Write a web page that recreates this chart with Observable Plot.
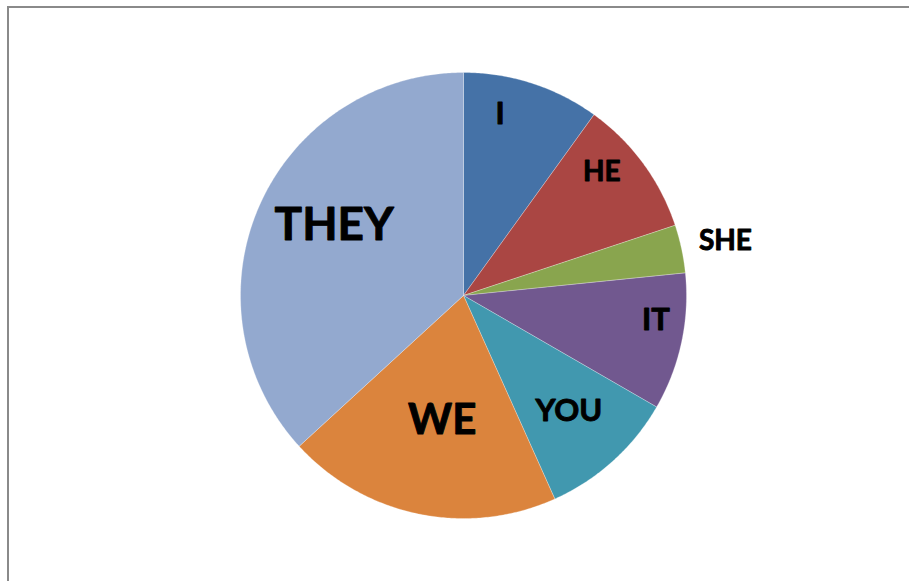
<!DOCTYPE html>
<html>
<head>
<meta charset="utf-8">
<script src="https://cdn.jsdelivr.net/npm/d3@7"></script>
<script src="https://cdn.jsdelivr.net/npm/@observablehq/plot@0.6"></script>
<style>
  html, body { margin: 0; padding: 0; background: #fff; overflow: hidden; }
  #wrap { position: relative; width: 909px; height: 581px; }
  #frame { position: absolute; left: 7px; top: 6px; width: 1000px; height: 1000px;
           border: 2px solid #8a8a8a; box-sizing: border-box; pointer-events: none; }
</style>
</head>
<body>
<div id="wrap"><div id="frame"></div></div>
<script>
// ---- data ----
const categories = ["I", "HE", "SHE", "IT", "YOU", "WE", "THEY"];
const values     = [10, 10, 3.5, 10, 10, 20, 37];
const colors     = ["#4572A7", "#AA4643", "#89A54E", "#71588F", "#4198AF", "#DB843D", "#93A9CF"];

// ---- label placement (style, not data) ----
const labelRadius = [0.83, 0.83, 1.2, 0.87, 0.70, 0.57, 0.66];
const labelShift  = [-6.5, -5.4, 0.3, -4.8, -0.4, -2.0, 4.8]; // degrees
const labelSize   = [31, 28, 28, 31, 31, 42, 46];

// ---- geometry from data via d3.pie ----
const pie = d3.pie().sort(null).value(d => d.value)(
  categories.map((c, i) => ({ name: c, value: values[i] }))
);

const pts = [];
pie.forEach(s => {
  const name = s.data.name;
  pts.push({ name, x: 0, y: 0 });
  const n = Math.max(4, Math.ceil((s.endAngle - s.startAngle) / (Math.PI / 360)));
  for (let k = 0; k <= n; k++) {
    const a = s.startAngle + (s.endAngle - s.startAngle) * k / n;
    pts.push({ name, x: Math.sin(a), y: Math.cos(a) });
  }
  pts.push({ name, x: 0, y: 0 });
});

const labels = pie.map((s, i) => {
  const a = (s.startAngle + s.endAngle) / 2 + labelShift[i] * Math.PI / 180;
  return { name: s.data.name, x: labelRadius[i] * Math.sin(a), y: labelRadius[i] * Math.cos(a), size: labelSize[i] };
});

const cx = 463, cy = 295, R = 223;

const chart = Plot.plot({
  width: 909,
  height: 581,
  margin: 0,
  style: { background: "transparent", overflow: "visible" },
  x: { domain: [-1, 1], range: [cx - R, cx + R], axis: null },
  y: { domain: [-1, 1], range: [cy + R, cy - R], axis: null },
  color: { domain: categories, range: colors },
  marks: [
    Plot.line(pts, { x: "x", y: "y", z: "name", fill: "name", stroke: "#ffffff", strokeWidth: 0.6, strokeOpacity: 0.45, curve: "linear" }),
    Plot.text(labels, { x: "x", y: "y", text: "name", fontSize: "size", fontWeight: "bold",
      fontFamily: "Lato, 'Open Sans', sans-serif", fill: "#000", stroke: "#000", strokeWidth: 0.9 })
  ]
});
chart.style.position = "absolute";
chart.style.left = "0px";
chart.style.top = "0px";
document.getElementById("wrap").prepend(chart);
</script>
</body>
</html>
